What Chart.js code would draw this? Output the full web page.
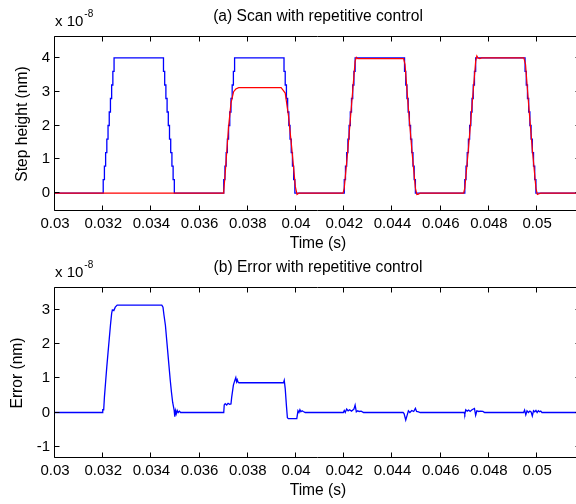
<!DOCTYPE html>
<html>
<head>
<meta charset="utf-8">
<script src="https://cdn.jsdelivr.net/npm/chart.js@4.4.1/dist/chart.umd.min.js"></script>
<style>
html, body { margin: 0; padding: 0; background: #fff; overflow: hidden; width: 576px; height: 504px; }
#wrap { position: relative; width: 576px; height: 504px; overflow: hidden; }
canvas { position: absolute; left: 0; }
#top { top: 0; }
#bottom { top: 252px; }
</style>
</head>
<body>
<div id="wrap">
  <canvas id="top" width="584" height="252"></canvas>
  <canvas id="bottom" width="584" height="252"></canvas>
</div>
<script>
// all heights in units of 1e-8 (shown as "x 10^-8" above the axis)

// reference step profile (blue, sample-and-hold)
var refT = [0.030,
  0.03200, 0.03205, 0.03210, 0.03215, 0.03220, 0.03225, 0.03230, 0.03235, 0.03240, 0.03245,
  0.03450, 0.03455, 0.03460, 0.03465, 0.03470, 0.03475, 0.03480, 0.03485, 0.03490, 0.03495,
  0.03700, 0.03705, 0.03710, 0.03715, 0.03720, 0.03725, 0.03730, 0.03735, 0.03740, 0.03745,
  0.03950, 0.03955, 0.03960, 0.03965, 0.03970, 0.03975, 0.03980, 0.03985, 0.03990, 0.03995,
  0.04200, 0.04205, 0.04210, 0.04215, 0.04220, 0.04225, 0.04230, 0.04235, 0.04240, 0.04245,
  0.04450, 0.04455, 0.04460, 0.04465, 0.04470, 0.04475, 0.04480, 0.04485, 0.04490, 0.04495,
  0.04700, 0.04705, 0.04710, 0.04715, 0.04720, 0.04725, 0.04730, 0.04735, 0.04740, 0.04745,
  0.04950, 0.04955, 0.04960, 0.04965, 0.04970, 0.04975, 0.04980, 0.04985, 0.04990, 0.04995,
  0.0525];
var refY = [0,
  0.4, 0.8, 1.2, 1.6, 2.0, 2.4, 2.8, 3.2, 3.6, 4.0,
  3.6, 3.2, 2.8, 2.4, 2.0, 1.6, 1.2, 0.8, 0.4, 0,
  0.4, 0.8, 1.2, 1.6, 2.0, 2.4, 2.8, 3.2, 3.6, 4.0,
  3.6, 3.2, 2.8, 2.4, 2.0, 1.6, 1.2, 0.8, 0.4, 0,
  0.4, 0.8, 1.2, 1.6, 2.0, 2.4, 2.8, 3.2, 3.6, 4.0,
  3.6, 3.2, 2.8, 2.4, 2.0, 1.6, 1.2, 0.8, 0.4, 0,
  0.4, 0.8, 1.2, 1.6, 2.0, 2.4, 2.8, 3.2, 3.6, 4.0,
  3.6, 3.2, 2.8, 2.4, 2.0, 1.6, 1.2, 0.8, 0.4, 0,
  0];

// measured output with repetitive control (red)
var outT = [0.030, 0.03697, 0.03700, 0.03707, 0.03720, 0.03730, 0.03741, 0.03750, 0.03762,
  0.03938, 0.03946, 0.03955, 0.03969, 0.03983, 0.03997, 0.04004, 0.04012,
  0.04195, 0.04200, 0.04215, 0.04230, 0.04245, 0.04250, 0.04256,
  0.04446, 0.04452, 0.04465, 0.04480, 0.04495, 0.04501, 0.04508, 0.04515,
  0.04695, 0.04700, 0.04715, 0.04730, 0.04745, 0.04750, 0.04755, 0.04762, 0.04770,
  0.04945, 0.04952, 0.04965, 0.04980, 0.04995, 0.05001, 0.05008, 0.05015, 0.0525];
var outY = [0, 0, 0.05, 0.68, 1.96, 2.66, 3.0, 3.08, 3.12,
  3.12, 3.05, 2.96, 2.26, 1.27, 0.19, -0.04, 0,
  0, 0.15, 1.3, 2.6, 3.9, 4.02, 3.98,
  3.98, 3.8, 2.6, 1.3, 0.15, -0.04, -0.03, 0,
  0, 0.15, 1.3, 2.6, 3.9, 4.06, 4.0, 3.98, 4.0,
  4.0, 3.8, 2.6, 1.3, 0.15, -0.04, -0.02, 0, 0];

// tracking error (blue, lower plot)
var errT = [0.030, 0.03196, 0.03198, 0.03202, 0.03205, 0.03210, 0.03215, 0.03220, 0.03225, 0.03230,
  0.03235, 0.03238, 0.03244, 0.03250, 0.03258, 0.03443, 0.03448, 0.03452, 0.03458, 0.03463,
  0.03468, 0.03473, 0.03478, 0.03483, 0.03488, 0.03494, 0.03497, 0.03500, 0.03503, 0.03507,
  0.03511, 0.03516, 0.03521,
  0.03700, 0.03702, 0.03706, 0.03712, 0.03718, 0.03724, 0.03730, 0.03733, 0.03740, 0.03746,
  0.03750, 0.03753, 0.03756, 0.03760, 0.03764, 0.03948, 0.03951, 0.03955, 0.03960, 0.03964,
  0.03968, 0.04003, 0.04008, 0.04012, 0.04016, 0.04020, 0.04025, 0.04030, 0.04038,
  0.04196, 0.04200, 0.04204, 0.04210, 0.04216, 0.04222, 0.04230, 0.04240, 0.04245, 0.04250,
  0.04256, 0.04262, 0.04270, 0.04280,
  0.04444, 0.04448, 0.04455, 0.04460, 0.04466, 0.04472, 0.04480, 0.04488, 0.04495, 0.04500,
  0.04508, 0.04515,
  0.04697, 0.04700, 0.04704, 0.04710, 0.04716, 0.04722, 0.04730, 0.04740, 0.04745, 0.04750,
  0.04758, 0.04765, 0.04775, 0.04782,
  0.04944, 0.04948, 0.04953, 0.04958, 0.04964, 0.04970, 0.04975, 0.04980, 0.04985, 0.04990,
  0.04995, 0.05000, 0.05005, 0.05010, 0.05015, 0.05020, 0.0525];
var errY = [0, 0, 0.08, 0.08, 0.45, 0.9, 1.35, 1.75, 2.15, 2.55,
  2.9, 3.0, 2.98, 3.08, 3.14, 3.14, 3.08, 2.85, 2.55, 2.15,
  1.75, 1.35, 0.95, 0.6, 0.3, 0.08, -0.12, 0.05, -0.04, 0.06,
  0, 0.04, 0,
  0, 0.22, 0.26, 0.22, 0.27, 0.24, 0.25, 0.45, 0.8, 0.94,
  1.02, 0.9, 0.96, 0.88, 0.87, 0.87, 0.94, 0.7, 0.2, -0.15,
  -0.18, -0.18, 0.05, 0, 0.08, 0.02, 0.05, 0.03, 0,
  0, 0.06, 0, 0.1, 0.05, 0.08, 0.04, 0.1, 0.22, 0.02,
  0.05, 0.03, 0.04, 0,
  0, -0.03, -0.22, -0.1, 0.05, 0, 0.06, 0.03, 0.12, 0.03,
  0.02, 0,
  0, -0.05, 0.08, 0.04, 0.07, 0.03, 0.08, 0.12, -0.08, 0.05,
  0.03, 0.04, 0.03, 0,
  0, 0.07, -0.07, 0.05, 0, 0.04, 0.02, -0.1, 0.05, 0.02,
  0.06, 0, 0.05, 0.02, 0.04, 0, 0];

var xMin = 0.03, xMax = 0.05182, xStep = 0.002;

var FONT = '"Liberation Sans", Arial, Helvetica, sans-serif';
Chart.defaults.font.family = FONT;
Chart.defaults.color = '#000';

function pts(ts, ys) {
  return ts.map(function (t, i) { return { x: t, y: ys[i] }; });
}

// box, inward ticks, title and the exponent label, matlab style
var frame = {
  id: 'frame',
  afterDraw: function (chart, args, opts) {
    var ctx = chart.ctx, a = chart.chartArea;
    var xs = chart.scales.x, ys = chart.scales.y;
    var L = a.left - 0.5, R = a.right - 0.5, T = a.top - 0.5, B = a.bottom - 0.5;
    ctx.save();
    ctx.strokeStyle = '#000';
    ctx.lineWidth = 1;
    ctx.beginPath();
    ctx.rect(L, T, R - L, B - T);
    xs.ticks.forEach(function (t) {
      var px = Math.round(xs.getPixelForValue(t.value)) - 0.5;
      ctx.moveTo(px, B); ctx.lineTo(px, B - 5);
      ctx.moveTo(px, T); ctx.lineTo(px, T + 5);
    });
    ys.ticks.forEach(function (t) {
      var py = Math.round(ys.getPixelForValue(t.value)) - 0.5;
      ctx.moveTo(L, py); ctx.lineTo(L + 5, py);
      ctx.moveTo(R, py); ctx.lineTo(R - 5, py);
    });
    ctx.stroke();

    ctx.fillStyle = '#000';
    ctx.textBaseline = 'middle';
    ctx.textAlign = 'center';
    ctx.font = '15.6px ' + FONT;
    ctx.fillText(opts.title, (a.left + a.right) / 2, a.top - 20);

    ctx.textAlign = 'left';
    ctx.font = '15px ' + FONT;
    ctx.fillText('x 10', a.left, a.top - 15);
    var w = ctx.measureText('x 10').width;
    ctx.font = '10px ' + FONT;
    ctx.fillText('-8', a.left + w + 1, a.top - 23);
    ctx.restore();
  }
};

function makeChart(id, datasets, yMin, yMax, yLabel, title, padTop, padBottom, yTitlePad) {
  return new Chart(document.getElementById(id), {
    type: 'line',
    data: { datasets: datasets },
    options: {
      responsive: false,
      animation: false,
      events: [],
      layout: { padding: { top: padTop, bottom: padBottom, left: 0, right: 3 } },
      plugins: { legend: { display: false }, tooltip: { enabled: false }, frame: { title: title } },
      scales: {
        x: {
          type: 'linear',
          min: xMin,
          max: xMax,
          grid: { display: false, drawTicks: false },
          border: { display: false },
          ticks: {
            stepSize: xStep,
            includeBounds: false,
            autoSkip: false,
            maxRotation: 0,
            padding: 4,
            font: { size: 15 },
            callback: function (v) { return String(+v.toFixed(3)); }
          },
          title: { display: true, text: 'Time (s)', font: { size: 15.6, lineHeight: '14px' }, padding: { top: 0, bottom: 1 } },
          afterFit: function (s) { s.height = 41; }
        },
        y: {
          min: yMin,
          max: yMax,
          grid: { display: false, drawTicks: false },
          border: { display: false },
          ticks: {
            stepSize: 1,
            includeBounds: false,
            padding: 5,
            font: { size: 15 },
            callback: function (v) { return String(Math.round(v)); }
          },
          title: { display: true, text: yLabel, font: { size: 15.6, lineHeight: '16px' }, padding: { top: yTitlePad, bottom: 0 } },
          afterFit: function (s) { s.width = 55; }
        }
      }
    },
    plugins: [frame]
  });
}

makeChart('top', [
  { data: pts(refT, refY), borderColor: '#0000ff', borderWidth: 1.3, pointRadius: 0, stepped: true, order: 2 },
  { data: pts(outT, outY), borderColor: '#ff0000', borderWidth: 1.2, pointRadius: 0, tension: 0, order: 1 }
], -0.53, 4.62, 'Step height (nm)', '(a) Scan with repetitive control', 37, 0, 15);

makeChart('bottom', [
  { data: pts(errT, errY), borderColor: '#0000ff', borderWidth: 1.3, pointRadius: 0, tension: 0 }
], -1.33, 3.64, 'Error (nm)', '(b) Error with repetitive control', 36, 5, 10);
</script>
</body>
</html>
